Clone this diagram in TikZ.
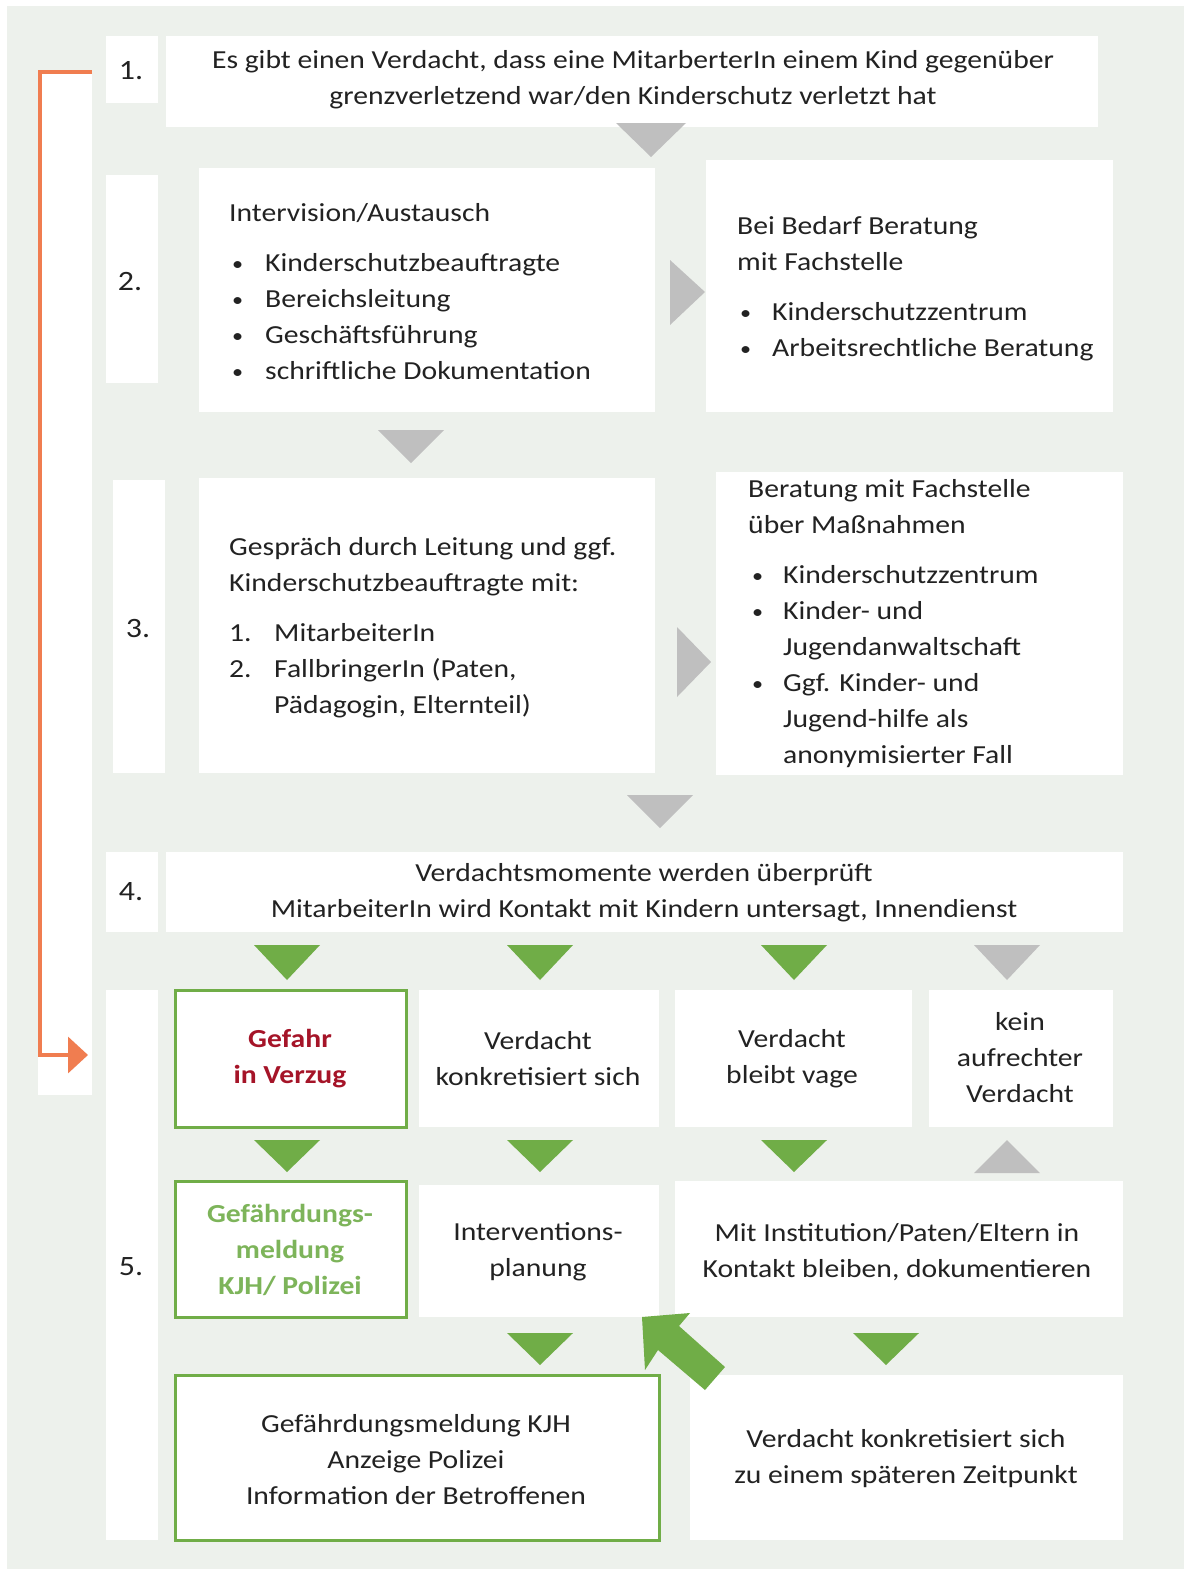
\documentclass[tikz,border=0pt]{standalone}
\usepackage{fontspec}
\setmainfont{Carlito}[FakeStretch=1.14]
\usetikzlibrary{arrows.meta,fit}
\definecolor{bgc}{RGB}{237,241,236}
\definecolor{ggreen}{RGB}{112,173,71}
\definecolor{ggray}{RGB}{191,191,191}
\definecolor{orng}{RGB}{240,125,80}
\definecolor{dred}{RGB}{165,20,40}
\definecolor{txt}{RGB}{34,34,34}
\definecolor{gtxt}{RGB}{125,180,90}
\newcommand{\bul}{\raisebox{1.5pt}{\scalebox{0.75}{•}}}
\begin{document}
\begin{tikzpicture}[x=1pt,y=-1pt,
  box/.style={fill=white,draw=none,inner sep=0pt},
  gbox/.style={fill=white,draw=ggreen,line width=3pt,inner sep=0pt},
  txtn/.style={inner sep=0pt,text=txt,font=\fontsize{26}{36}\selectfont},
  ctxt/.style={txtn,align=center},
  ltxt/.style={txtn,align=left,anchor=west},
  numt/.style={inner sep=0pt,text=txt,font=\fontsize{28}{36}\selectfont},
  gtri/.style={fill=ggreen},
  ytri/.style={fill=ggray}]
\useasboundingbox (0,0) rectangle (1184,1569);
\fill[white] (0,0) rectangle (1184,1569);
\fill[bgc] (7,6) rectangle (1184,1569);
% orange side strip
\node[box,fit={(38,70)(92,1095)}] (strip) {};
% number boxes
\node[box,fit={(106,36)(158,103)}] (n1) {};
\node[box,fit={(106,175)(158,383)}] (n2) {};
\node[box,fit={(113,480)(165,773)}] (n3) {};
\node[box,fit={(106,852)(158,932)}] (n4) {};
\node[box,fit={(106,990)(158,1540)}] (n5) {};
\node[numt] (n1t) at (131,71) {1.};
\node[numt] (n2t) at (130,282) {2.};
\node[numt] (n3t) at (138,629) {3.};
\node[numt] (n4t) at (131,892) {4.};
\node[numt] (n5t) at (131,1267) {5.};
% step 1
\node[box,fit={(166,36)(1098,127)}] (b1) {};
\node[ctxt] (b1t) at (633,80) {Es gibt einen Verdacht,\ dass eine MitarberterIn\ einem Kind gegenüber\\grenzverletzend\ war/den Kinderschutz verletzt hat};
\fill[ytri] (616,123) -- (686,123) -- (651,157) -- cycle;
% step 2
\node[box,fit={(199,168)(655,412)}] (b2l) {};
\node[box,fit={(706,160)(1113,412)}] (b2r) {};
\node[ltxt] (b2lt) at (229,292) {Intervision/Austausch\\[14pt]
\hspace*{3pt}\makebox[33pt][l]{\bul}Kinderschutzbeauftragte\\
\hspace*{3pt}\makebox[33pt][l]{\bul}Bereichsleitung\\
\hspace*{3pt}\makebox[33pt][l]{\bul}Geschäftsführung\\
\hspace*{3pt}\makebox[33pt][l]{\bul}schriftliche Dokumentation};
\node[ltxt] (b2rt) at (737,289) {Bei Bedarf Beratung\\mit Fachstelle\\[14pt]
\hspace*{3pt}\makebox[32pt][l]{\bul}Kinderschutzzentrum\\
\hspace*{3pt}\makebox[32pt][l]{\bul}Arbeitsrechtliche Beratung};
\fill[ytri] (670,260) -- (705,292) -- (670,325) -- cycle;
\fill[ytri] (378,430) -- (444,430) -- (411,463) -- cycle;
% step 3
\node[box,fit={(199,478)(655,773)}] (b3l) {};
\node[box,fit={(716,472)(1123,775)}] (b3r) {};
\node[ltxt] (b3lt) at (229,628) {Gespräch durch\ Leitung und ggf.\\Kinderschutzbeauftragte\ mit:\\[14pt]
\makebox[45pt][l]{1.}MitarbeiterIn\\
\makebox[45pt][l]{2.}FallbringerIn (Paten,\\
\hspace*{45pt}Pädagogin, Elternteil)};
\node[ltxt] (b3rt) at (748,624) {Beratung mit Fachstelle\\über Maßnahmen\\[14pt]
\hspace*{4pt}\makebox[31pt][l]{\bul}Kinderschutzzentrum\\
\hspace*{4pt}\makebox[31pt][l]{\bul}Kinder- und\\
\hspace*{35pt}Jugendanwaltschaft\\
\hspace*{4pt}\makebox[31pt][l]{\bul}Ggf. Kinder- und\\
\hspace*{35pt}Jugend-hilfe als\\
\hspace*{35pt}anonymisierter Fall};
\fill[ytri] (677,627) -- (711,662) -- (677,697) -- cycle;
\fill[ytri] (627,795) -- (693,795) -- (660,828) -- cycle;
% step 4
\node[box,fit={(166,852)(1123,932)}] (b4) {};
\node[ctxt] (b4t) at (644,893) {Verdachtsmomente\ werden überprüft\\MitarbeiterIn\ wird Kontakt\ mit Kindern\ untersagt, Innendienst};
\foreach \cx in {287,540,794} \fill[gtri] (\cx-33,945) -- (\cx+33,945) -- (\cx,980) -- cycle;
\fill[ytri] (974,945) -- (1040,945) -- (1007,980) -- cycle;
% step 5 row a
\node[gbox,fit={(175,990)(406,1127)}] (g1) {};
\node[box,fit={(419,990)(659,1127)}] (v1) {};
\node[box,fit={(675,990)(912,1127)}] (v2) {};
\node[box,fit={(929,990)(1113,1127)}] (v3) {};
\node[ctxt,text=dred,font=\fontsize{26}{36}\selectfont\bfseries] (g1t) at (290,1059) {Gefahr\\in Verzug};
\node[ctxt] (v1t) at (538,1059) {Verdacht\\konkretisiert sich};
\node[ctxt] (v2t) at (792,1059) {Verdacht\\bleibt vage};
\node[ctxt] (v3t) at (1020,1058) {kein\\aufrechter\\Verdacht};
\foreach \cx in {287,540,794} \fill[gtri] (\cx-33,1140) -- (\cx+33,1140) -- (\cx,1172) -- cycle;
\fill[ytri] (974,1173) -- (1040,1173) -- (1007,1140) -- cycle;
% row b
\node[gbox,fit={(175,1181)(406,1317)}] (g2) {};
\node[box,fit={(419,1185)(659,1317)}] (ip) {};
\node[box,fit={(675,1181)(1123,1317)}] (mi) {};
\node[ctxt,text=gtxt,font=\fontsize{26}{36}\selectfont\bfseries] (g2t) at (290,1250) {Gefährdungs-\\meldung\\KJH/ Polizei};
\node[ctxt] (ipt) at (538,1252) {Interventions-\\planung};
\node[ctxt] (mit) at (897,1252) {Mit Institution/Paten/Eltern\ in\\Kontakt\ bleiben, dokumentieren};
\fill[gtri] (507,1333) -- (573,1333) -- (540,1365) -- cycle;
\fill[gtri] (853,1333) -- (919,1333) -- (886,1365) -- cycle;
% row c
\node[gbox,fit={(175,1375)(659,1540)}] (g3) {};
\node[box,fit={(690,1375)(1123,1540)}] (sp) {};
\node[ctxt] (g3t) at (416,1460) {Gefährdungsmeldung\ KJH\\Anzeige Polizei\\Information\ der Betroffenen};
\node[ctxt] (spt) at (906,1459) {Verdacht konkretisiert sich\\zu einem späteren Zeitpunkt};
% big green arrow (from later suspicion back to intervention planning)
\fill[gtri] (642,1317) -- (690,1313) -- (679,1326) -- (725,1367) -- (705,1390) -- (658,1350) -- (645,1370) -- cycle;
% orange connector
\coordinate (oa) at (92,72);
\coordinate (ob) at (88,1055);
\draw[orng,line width=3.5pt,-{Triangle[length=20pt,width=36pt]}] (oa) -- (40,72) |- (ob);
\end{tikzpicture}
\end{document}
